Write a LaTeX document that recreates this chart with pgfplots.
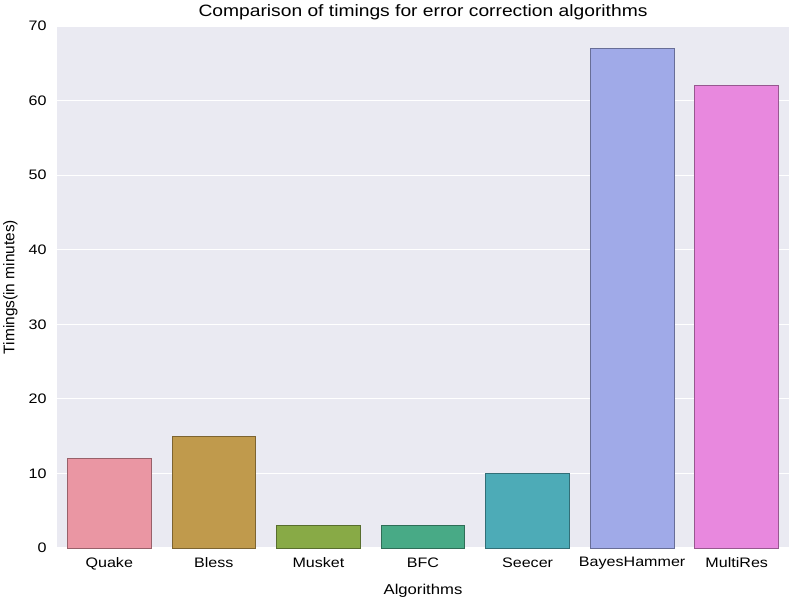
\documentclass[border=0pt]{standalone}
\usepackage{pgfplots}
\pgfplotsset{compat=1.18}
\usepackage{fontspec}
\setmainfont{Liberation Sans}[FakeStretch=1.17]
\newfontfamily\plainfont{Liberation Sans}

\definecolor{bg}{RGB}{234,234,242}
\definecolor{cquake}{RGB}{234,150,163}
\definecolor{cbless}{RGB}{192,154,76}
\definecolor{cmusket}{RGB}{136,170,70}
\definecolor{cbfc}{RGB}{72,170,134}
\definecolor{cseecer}{RGB}{77,171,183}
\definecolor{cbayes}{RGB}{160,170,232}
\definecolor{cmulti}{RGB}{232,136,222}

\begin{document}
\begin{tikzpicture}
\begin{axis}[
  name=ax,
  scale only axis,
  width=732bp, height=522bp,
  xmin=-0.5, xmax=6.5,
  ymin=0, ymax=70,
  ytick={0,10,...,70},
  xtick={0,...,6},
  xticklabels={Quake,Bless,Musket,BFC,Seecer,BayesHammer,MultiRes},
  axis background/.style={fill=bg},
  axis line style={draw=none},
  major tick length=0pt,
  ymajorgrids,
  grid style={white, line width=1.2bp},
  /pgf/number format/assume math mode=true,
  tick label style={font=\fontsize{13.8}{16}\selectfont},
  yticklabel style={xshift=-7bp},
  xticklabel style={yshift=-6bp},
  xlabel={Algorithms},
  ylabel={Timings(in minutes)},
  xlabel style={font=\fontsize{14.3}{16}\selectfont, at={(axis description cs:0.5,0)}, anchor=north, yshift=-33bp},
  ylabel style={font=\fontsize{15.5}{18}\plainfont, at={(axis description cs:0,0.5)}, anchor=south, yshift=36bp},
  title={Comparison of timings for error correction algorithms},
  title style={font=\fontsize{16.5}{19}\selectfont, at={(axis description cs:0.5,1)}, anchor=south, yshift=-3bp},
  ybar, bar width=0.8, bar shift=0pt,
  every axis plot/.append style={line width=0.9bp},
]
\addplot[fill=cquake, draw=cquake!65!black] coordinates {(0,12)};
\addplot[fill=cbless, draw=cbless!65!black] coordinates {(1,15)};
\addplot[fill=cmusket, draw=cmusket!65!black] coordinates {(2,3)};
\addplot[fill=cbfc, draw=cbfc!65!black] coordinates {(3,3)};
\addplot[fill=cseecer, draw=cseecer!65!black] coordinates {(4,10)};
\addplot[fill=cbayes, draw=cbayes!65!black] coordinates {(5,67)};
\addplot[fill=cmulti, draw=cmulti!65!black] coordinates {(6,62)};
\end{axis}
\pgfresetboundingbox
\path ([shift={(-57bp,-54bp)}]ax.south west) rectangle ([shift={(3bp,26bp)}]ax.north east);
\end{tikzpicture}
\end{document}
